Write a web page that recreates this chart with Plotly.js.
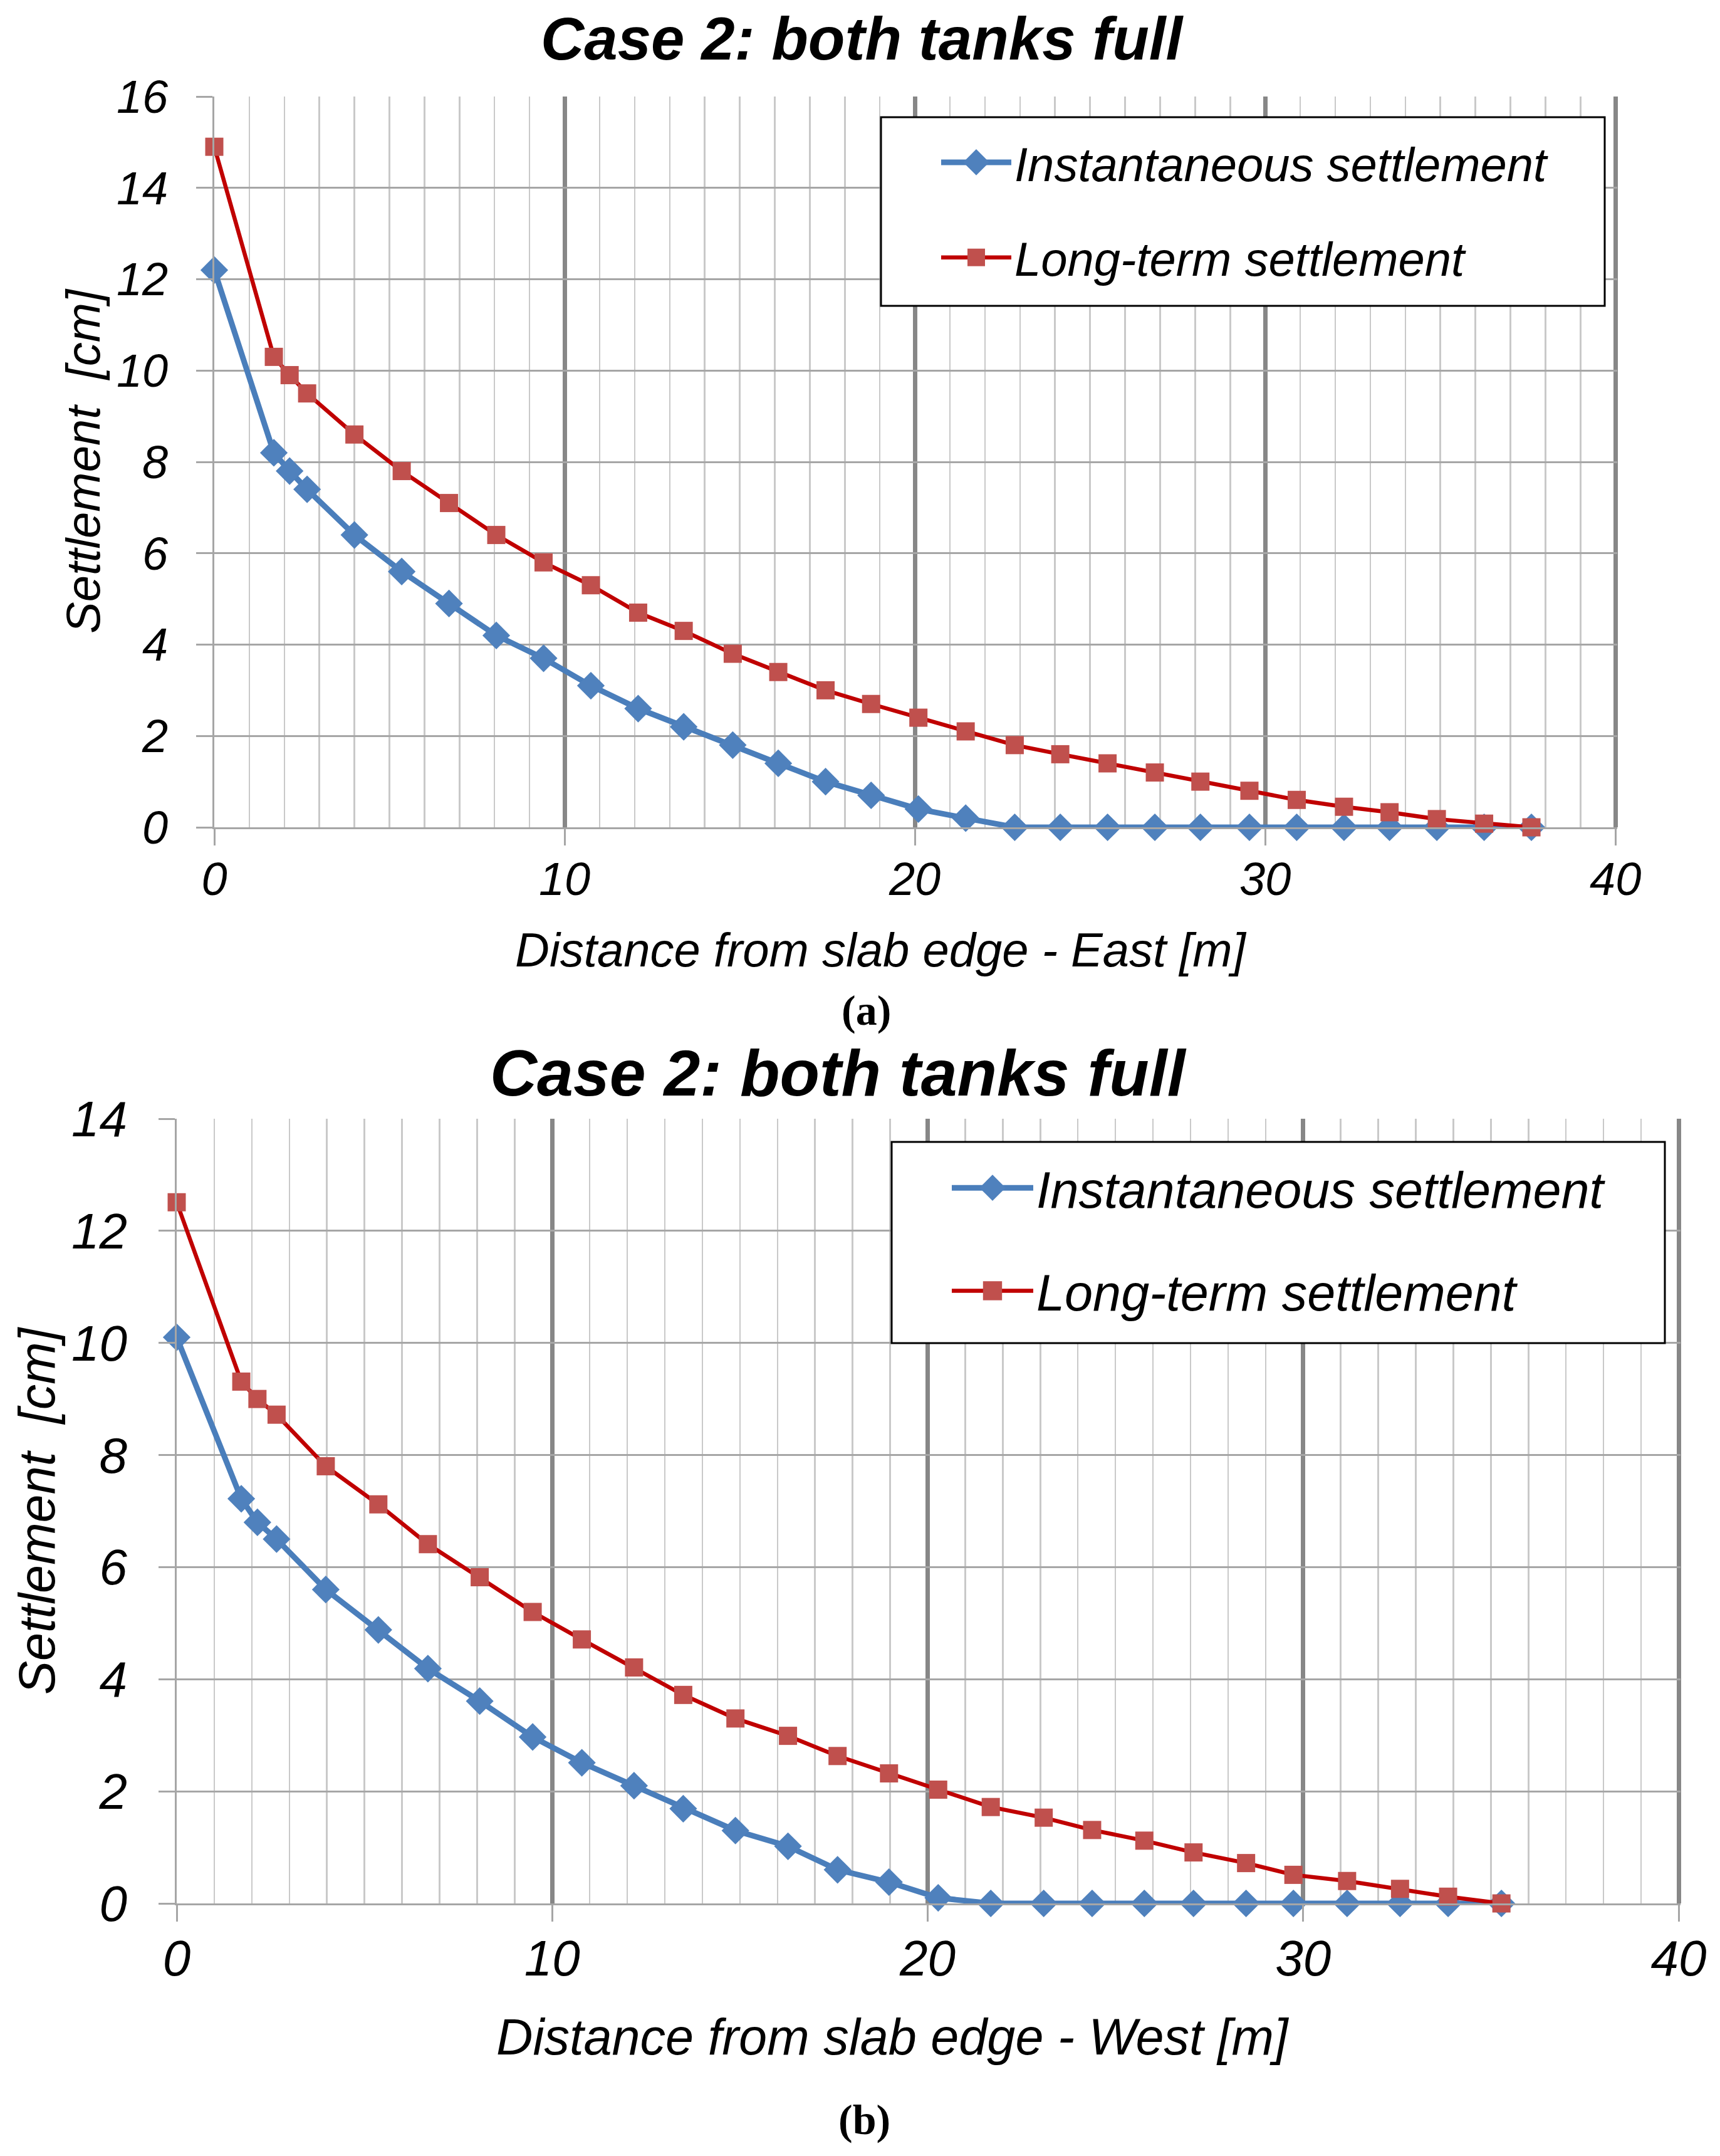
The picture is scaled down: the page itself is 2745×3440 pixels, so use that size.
<!DOCTYPE html>
<html>
<head>
<meta charset="utf-8">
<script src="https://cdn.plot.ly/plotly-3.0.1.min.js"></script>
<style>
  body { margin: 0; background: #fff; }
  #chart { width: 2745px; height: 3440px; }
</style>
</head>
<body>
<div id="chart"></div>
<script>
        // (a) East side
        const xEast = [0, 1.7, 2.15, 2.65, 4.0, 5.35, 6.7, 8.05, 9.4, 10.75, 12.1, 13.4, 14.8, 16.1, 17.45,
            18.75, 20.1, 21.45, 22.85, 24.15, 25.5, 26.85, 28.15, 29.55, 30.9, 32.25, 33.55, 34.9, 36.25, 37.6];
        const instEast = [12.2, 8.2, 7.8, 7.4, 6.4, 5.6, 4.9, 4.2, 3.7, 3.1, 2.6, 2.2, 1.8, 1.4, 1.0,
            0.7, 0.4, 0.2, 0, 0, 0, 0, 0, 0, 0, 0, 0, 0, 0, 0];
        const longEast = [14.9, 10.3, 9.9, 9.5, 8.6, 7.8, 7.1, 6.4, 5.8, 5.3, 4.7, 4.3, 3.8, 3.4, 3.0,
            2.7, 2.4, 2.1, 1.8, 1.6, 1.4, 1.2, 1.0, 0.8, 0.6, 0.45, 0.33, 0.18, 0.08, 0];

        // (b) West side
        const xWest = [0, 1.72, 2.15, 2.66, 3.97, 5.37, 6.69, 8.07, 9.48, 10.79, 12.18, 13.49, 14.88, 16.28,
            17.6, 18.97, 20.28, 21.68, 23.09, 24.38, 25.77, 27.08, 28.48, 29.74, 31.17, 32.58, 33.86, 35.28];
        const instWest = [10.1, 7.22, 6.8, 6.5, 5.6, 4.88, 4.19, 3.61, 2.97, 2.51, 2.1, 1.69, 1.3, 1.02,
            0.6, 0.38, 0.1, 0, 0, 0, 0, 0, 0, 0, 0, 0, 0, 0];
        const longWest = [12.51, 9.31, 9.0, 8.72, 7.8, 7.12, 6.41, 5.82, 5.2, 4.71, 4.21, 3.72, 3.3, 2.99,
            2.63, 2.32, 2.03, 1.72, 1.53, 1.31, 1.12, 0.91, 0.72, 0.51, 0.4, 0.26, 0.12, 0];

        const seriesNames = ["Instantaneous settlement", "Long-term settlement"];
        const chartTitle = "Case 2: both tanks full";
        const xTitles = ["Distance from slab edge - East [m]", "Distance from slab edge - West [m]"];
        const yTitle = "Settlement  [cm]";
        const captions = ["(a)", "(b)"];

        const W = 2745, H = 3440;
        const FONT = "Liberation Sans, Arial, sans-serif";
        const SERIF = "Liberation Serif, Times New Roman, serif";

        // pixel helpers -> paper fractions
        const px = (v) => v / W;
        const py = (v) => 1 - v / H;

        function makeTraces(x, inst, long, xa, ya, leg) {
            return [
                {
                    x: x, y: inst, name: seriesNames[0], xaxis: xa, yaxis: ya, legend: leg,
                    legendgroup: leg + "a", mode: "lines+markers", type: "scatter", cliponaxis: false,
                    line: { color: "#4a7ebb", width: 9 },
                    marker: { symbol: "diamond", size: 34, color: "#4f81bd" }
                },
                {
                    x: x, y: long, name: seriesNames[1], xaxis: xa, yaxis: ya, legend: leg,
                    legendgroup: leg + "b", mode: "lines+markers", type: "scatter", cliponaxis: false,
                    line: { color: "#c00000", width: 6.5 },
                    marker: { symbol: "square", size: 29, color: "#c0504d" }
                }
            ];
        }

        function xAxis(domain, anchor, fs, standoff) {
            return {
                domain: domain, anchor: anchor, range: [0, 40.05], dtick: 10, tick0: 0,
                showgrid: true, gridcolor: "#878787", gridwidth: 7,
                ticks: "outside", ticklen: 26, tickcolor: "#a6a6a6", tickwidth: 3,
                showline: true, linecolor: "#a6a6a6", linewidth: 3,
                zeroline: false, ticklabelstandoff: standoff,
                tickfont: { family: FONT, size: fs, color: "#000", style: "italic" },
                minor: { dtick: 1, showgrid: true, gridcolor: "#c9c9c9", gridwidth: 2.5, ticks: "" },
                fixedrange: true
            };
        }

        function yAxis(domain, anchor, top, fs, standoff) {
            return {
                domain: domain, anchor: anchor, range: [0, top], dtick: 2, tick0: 0,
                showgrid: true, gridcolor: "#a6a6a6", gridwidth: 3,
                ticks: "outside", ticklen: 26, tickcolor: "#a6a6a6", tickwidth: 3,
                showline: true, linecolor: "#a6a6a6", linewidth: 3,
                zeroline: false, ticklabelstandoff: standoff,
                tickfont: { family: FONT, size: fs, color: "#000", style: "italic" },
                fixedrange: true
            };
        }

        function legendBox(x, y, fs, itemw, gap) {
            return {
                x: x, y: y, xanchor: "left", yanchor: "top",
                bgcolor: "rgba(0,0,0,0)", borderwidth: 0,
                itemwidth: itemw, tracegroupgap: gap, traceorder: "grouped",
                font: { family: FONT, size: fs, color: "#000", style: "italic" }
            };
        }

        function note(text, x, y, size, opts) {
            return Object.assign({
                text: text, x: x, y: y, xref: "paper", yref: "paper",
                xanchor: "center", yanchor: "middle", showarrow: false,
                font: { family: FONT, size: size, color: "#000", style: "italic" }
            }, opts || {});
        }

        const data = makeTraces(xEast, instEast, longEast, "x", "y", "legend")
            .concat(makeTraces(xWest, instWest, longWest, "x2", "y2", "legend2"));

        const layout = {
            width: W, height: H,
            margin: { l: 0, r: 0, t: 0, b: 0 },
            paper_bgcolor: "#fff", plot_bgcolor: "#fff",
            xaxis: xAxis([px(342), px(2581)], "y", 74, -10),
            yaxis: yAxis([py(1320), py(154)], "x", 16, 74, 30),
            xaxis2: xAxis([px(282), px(2682)], "y2", 80, -10),
            yaxis2: yAxis([py(3037), py(1785)], "x2", 14, 80, 34),
            legend: legendBox(px(1497), py(203), 76, 112, 50),
            legend2: legendBox(px(1514), py(1836), 81, 130, 56),
            shapes: [
                { type: "rect", xref: "paper", yref: "paper", x0: px(1406), x1: px(2561), y0: py(488), y1: py(187),
                  line: { color: "#000", width: 3 }, fillcolor: "#fff", layer: "above" },
                { type: "rect", xref: "paper", yref: "paper", x0: px(1423), x1: px(2657), y0: py(2143), y1: py(1822),
                  line: { color: "#000", width: 3 }, fillcolor: "#fff", layer: "above" }
            ],
            annotations: [
                note("<b>" + chartTitle + "</b>", px(1376), py(61), 96),
                note(xTitles[0], px(1406), py(1515), 76),
                note(yTitle, px(132), py(736), 76, { textangle: -90 }),
                note("<b>" + chartTitle + "</b>", px(1338), py(1712), 104),
                note(xTitles[1], px(1425), py(3250), 81),
                note(yTitle, px(59), py(2410), 81, { textangle: -90 }),
                note("<b>" + captions[0] + "</b>", px(1382), py(1612), 68,
                    { font: { family: SERIF, size: 68, color: "#000" } }),
                note("<b>" + captions[1] + "</b>", px(1379), py(3382), 68,
                    { font: { family: SERIF, size: 68, color: "#000" } })
            ],
            showlegend: true
        };

        // legend symbols are capped at size 16 by plotly, blow them up to match the picture
        const legendScale = [2.0, 1.75, 2.0, 1.9];

        Plotly.newPlot("chart", data, layout, { displayModeBar: false, staticPlot: true }).then(function (gd) {
            const pts = gd.querySelectorAll(".legendpoints path.scatterpts");
            pts.forEach(function (p, i) {
                const t = p.getAttribute("transform") || "";
                p.setAttribute("transform", t + " scale(" + (legendScale[i] || 1) + ")");
            });
        });
</script>
</body>
</html>
